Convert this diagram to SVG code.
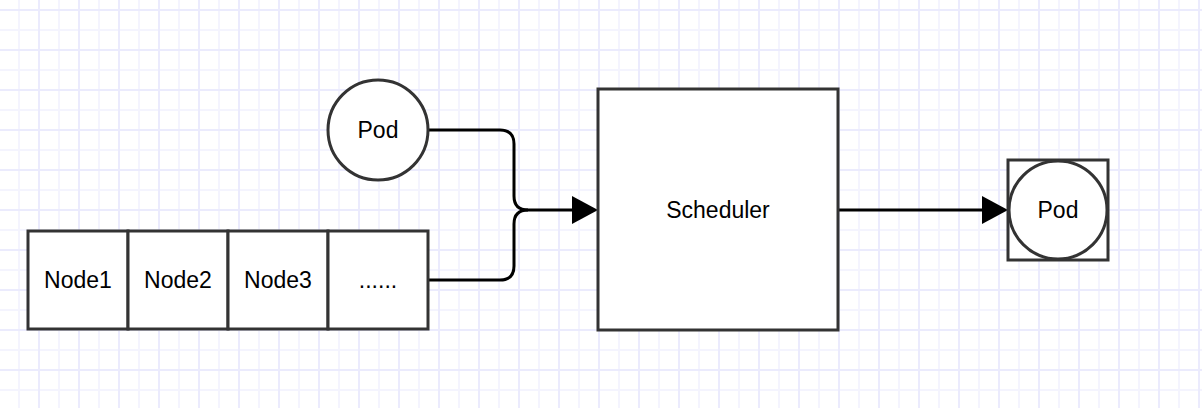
<svg xmlns="http://www.w3.org/2000/svg" width="1202" height="408" viewBox="0 0 1202 408">
<style>
.shape{fill:#fff;stroke:#333;stroke-width:3}
.lbl{font-family:"Liberation Sans",Arial,sans-serif;font-size:23px;fill:#000;text-anchor:middle}
.conn{fill:none;stroke:#000;stroke-width:3}
</style>
<defs>
<pattern id="grid" patternUnits="userSpaceOnUse" x="38" y="9" width="40" height="40">
<rect x="20" y="0" width="2" height="40" fill="#f4f4fe"/>
<rect x="0" y="20" width="40" height="2" fill="#f4f4fe"/>
<rect x="0" y="0" width="2" height="40" fill="#ebebfd"/>
<rect x="0" y="0" width="40" height="2" fill="#ebebfd"/>
</pattern>
<marker id="arrow" markerUnits="userSpaceOnUse" markerWidth="26" markerHeight="28" refX="2" refY="14" orient="auto" overflow="visible">
<path d="M0,0 L26,14 L0,28 Z" fill="#000"/>
</marker>
</defs>
<rect width="1202" height="408" fill="#fff"/>
<rect width="1202" height="408" fill="url(#grid)"/>
<g id="connectors">
<path class="conn" d="M429,130 H500 Q514,130 514,144 V196 Q514,210 528,210 H574" marker-end="url(#arrow)"/>
<path class="conn" d="M428,280 H500 Q514,280 514,266 V224 Q514,210 528,210"/>
<path class="conn" d="M838,210 H984" marker-end="url(#arrow)"/>
</g>
<g id="pod-in">
<circle class="shape" cx="378" cy="130" r="50"/>
<text class="lbl" x="378" y="138">Pod</text>
</g>
<g id="node1">
<rect class="shape" x="28" y="231" width="100" height="98"/>
<text class="lbl" x="78" y="288">Node1</text>
</g>
<g id="node2">
<rect class="shape" x="128" y="231" width="100" height="98"/>
<text class="lbl" x="178" y="288">Node2</text>
</g>
<g id="node3">
<rect class="shape" x="228" y="231" width="100" height="98"/>
<text class="lbl" x="278" y="288">Node3</text>
</g>
<g id="node-more">
<rect class="shape" x="328" y="231" width="100" height="98"/>
<text class="lbl" x="378" y="288">......</text>
</g>
<g id="scheduler">
<rect class="shape" x="598" y="89" width="240" height="241"/>
<text class="lbl" x="718" y="218">Scheduler</text>
</g>
<g id="pod-out">
<rect class="shape" x="1008" y="160" width="100" height="100"/>
<circle class="shape" cx="1058" cy="210" r="49"/>
<text class="lbl" x="1058" y="218">Pod</text>
</g>
</svg>
